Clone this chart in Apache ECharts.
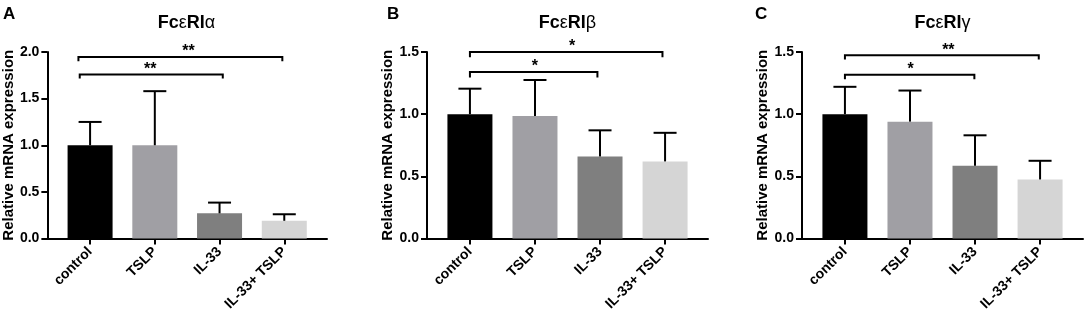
<!DOCTYPE html>
<html>
<head>
<meta charset="utf-8">
<script src="https://cdn.jsdelivr.net/npm/echarts@6/dist/echarts.min.js"></script>
<style>
  html, body { margin: 0; padding: 0; background: #fff; }
  #chart { width: 1084px; height: 316px; }
</style>
</head>
<body>
<div id="chart"></div>
<script>
// categories, shared by the three panels
const categories = ['control', 'TSLP', 'IL-33', 'IL-33+ TSLP'];
const barColors = ['#000000', '#a09fa4', '#7f7f7f', '#d5d5d5'];

// FcεRIα
const alphaMean = [1.0, 1.0, 0.27, 0.19];
const alphaTop = [1.25, 1.58, 0.385, 0.26];
// FcεRIβ
const betaMean = [1.0, 0.985, 0.66, 0.62];
const betaTop = [1.205, 1.275, 0.87, 0.85];
// FcεRIγ
const gammaMean = [1.0, 0.94, 0.585, 0.475];
const gammaTop = [1.22, 1.19, 0.83, 0.625];

// significance brackets: [from x, to x, bar height, tick end, star x, stars]
const alphaSig = [[-0.18, 2.97, 1.947, 1.90, 1.52, '**'], [-0.16, 2.05, 1.759, 1.717, 0.93, '**']];
const betaSig = [[0, 2.96, 1.5, 1.457, 1.57, '*'], [0, 1.96, 1.339, 1.294, 1.0, '*']];
const gammaSig = [[0, 2.98, 1.473, 1.439, 1.59, '**'], [0, 1.99, 1.318, 1.28, 1.01, '*']];

const yMax = [2.0, 1.5, 1.5];

const panels = [
    { letter: 'A', greek: 'α', mean: alphaMean, top: alphaTop, sig: alphaSig, left: 46 },
    { letter: 'B', greek: 'β', mean: betaMean, top: betaTop, sig: betaSig, left: 427 },
    { letter: 'C', greek: 'γ', mean: gammaMean, top: gammaTop, sig: gammaSig, left: 802 }
];

const FONT = 'Liberation Sans, Arial, sans-serif';
const GRID_W = 281;
const GRID_TOP = 52;
const GRID_H = 186.5;

const chart = echarts.init(document.getElementById('chart'), null, { renderer: 'canvas' });

const grid = [], xAxis = [], yAxis = [], series = [], graphic = [];

panels.forEach((p, k) => {
    grid.push({ left: p.left, top: GRID_TOP, width: GRID_W, height: GRID_H, containLabel: false });

    xAxis.push({
        gridIndex: k,
        type: 'value',
        min: -0.66,
        max: 3.66,
        splitLine: { show: false },
        axisLine: { show: true, onZero: false, lineStyle: { color: '#000', width: 2 } },
        axisTick: { show: true, customValues: [0, 1, 2, 3], length: 6, lineStyle: { color: '#000', width: 2 } },
        axisLabel: {
            customValues: [0, 1, 2, 3],
            formatter: v => categories[Math.round(v)],
            rotate: 45,
            margin: 11,
            color: '#000',
            fontFamily: FONT,
            fontWeight: 'bold',
            fontSize: 14
        }
    });

    yAxis.push({
        gridIndex: k,
        type: 'value',
        min: 0,
        max: yMax[k],
        interval: 0.5,
        name: 'Relative mRNA expression',
        nameLocation: 'middle',
        nameRotate: 90,
        nameGap: 29,
        nameTextStyle: { color: '#000', fontFamily: FONT, fontWeight: 'bold', fontSize: 15 },
        splitLine: { show: false },
        axisLine: { show: true, onZero: false, lineStyle: { color: '#000', width: 2 } },
        axisTick: { show: true, length: 6, lineStyle: { color: '#000', width: 2 } },
        axisLabel: {
            margin: 8,
            color: '#000',
            fontFamily: FONT,
            fontWeight: 'bold',
            fontSize: 14,
            formatter: v => v.toFixed(1)
        }
    });

    // bars
    series.push({
        type: 'bar',
        xAxisIndex: k,
        yAxisIndex: k,
        barWidth: 45,
        silent: true,
        data: p.mean.map((v, i) => ({ value: [i, v], itemStyle: { color: barColors[i] } }))
    });

    // error bars (upper only)
    series.push({
        type: 'custom',
        xAxisIndex: k,
        yAxisIndex: k,
        silent: true,
        z: 5,
        data: p.mean.map((v, i) => [i, v, p.top[i]]),
        renderItem: (params, api) => {
            const base = api.coord([api.value(0), api.value(1)]);
            const tip = api.coord([api.value(0), api.value(2)]);
            const style = { stroke: '#000', lineWidth: 2 };
            return {
                type: 'group',
                children: [
                    { type: 'line', shape: { x1: base[0], y1: base[1], x2: tip[0], y2: tip[1] }, style },
                    { type: 'line', shape: { x1: tip[0] - 11.5, y1: tip[1], x2: tip[0] + 11.5, y2: tip[1] }, style }
                ]
            };
        }
    });

    // significance brackets
    series.push({
        type: 'custom',
        xAxisIndex: k,
        yAxisIndex: k,
        silent: true,
        clip: false,
        z: 6,
        data: p.sig,
        renderItem: (params, api) => {
            const d = p.sig[params.dataIndex];
            const a = api.coord([d[0], d[3]]);
            const b = api.coord([d[0], d[2]]);
            const c = api.coord([d[1], d[2]]);
            const e = api.coord([d[1], d[3]]);
            const s = api.coord([d[4], d[2]]);
            return {
                type: 'group',
                children: [
                    {
                        type: 'polyline',
                        shape: { points: [a, b, c, e] },
                        style: { stroke: '#000', lineWidth: 2, fill: null }
                    },
                    {
                        type: 'text',
                        x: s[0],
                        y: s[1] + 3,
                        style: {
                            text: d[5],
                            fill: '#000',
                            font: 'bold 16px ' + FONT,
                            textAlign: 'center',
                            textVerticalAlign: 'bottom'
                        }
                    }
                ]
            };
        }
    });

    // panel title
    graphic.push({
        type: 'text',
        x: p.left + GRID_W / 2,
        y: 23,
        style: {
            text: '{b|Fc}{g|ε}{b|RI}{g|' + p.greek + '}',
            textAlign: 'center',
            textVerticalAlign: 'middle',
            rich: {
                b: { fontFamily: FONT, fontWeight: 'bold', fontSize: 18, fill: '#000' },
                g: { fontFamily: FONT, fontWeight: 'normal', fontSize: 18, fill: '#000' }
            }
        }
    });

    // panel letter
    graphic.push({
        type: 'text',
        x: [3, 387, 755][k],
        y: 14,
        style: {
            text: p.letter,
            font: 'bold 17px ' + FONT,
            fill: '#000',
            textAlign: 'left',
            textVerticalAlign: 'middle'
        }
    });
});

chart.setOption({
    animation: false,
    backgroundColor: '#fff',
    grid: grid,
    xAxis: xAxis,
    yAxis: yAxis,
    series: series,
    graphic: graphic
});
</script>
</body>
</html>
